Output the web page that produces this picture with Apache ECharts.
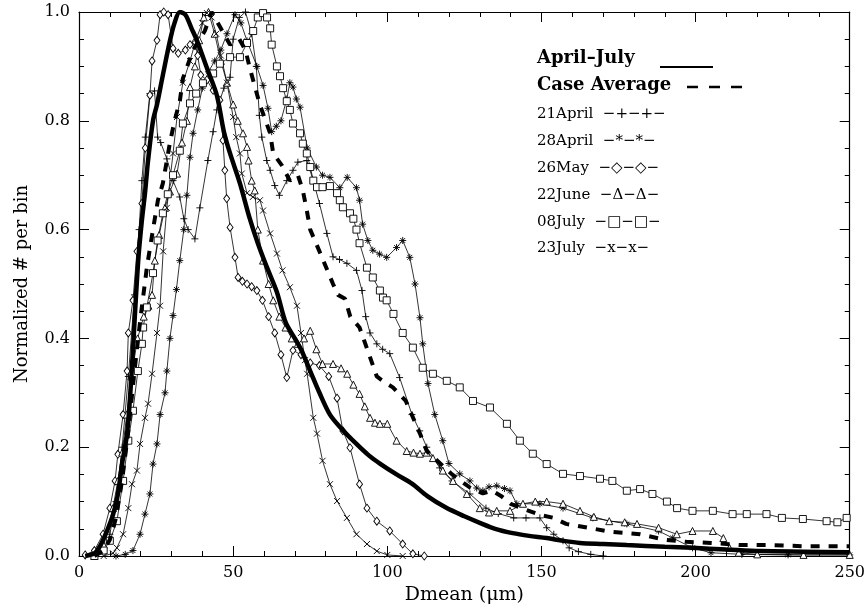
<!DOCTYPE html>
<html lang="en">
<head>
  <meta charset="UTF-8">
  <title>Normalized # per bin vs Dmean</title>
  <style>
    html, body { margin: 0; height: 100%; width: 100%; background: #fff; }
  </style>
</head>
<body>
  <div id="chart" style="width:868px;height:611px"></div>
  <script src="https://cdn.jsdelivr.net/npm/echarts@6/dist/echarts.min.js"></script>
  <script>
    // [Dmean (um), normalized count]
    const aprilJuly = [[2,0],[5,0.005],[7,0.02],[9,0.045],[11,0.075],[12.5,0.11],[14,0.17],[15.6,0.225],[17,0.33],[18.2,0.45],[19.3,0.55],[20.4,0.617],[21.4,0.667],[22.4,0.727],[24,0.8],[25.3,0.83],[27.2,0.884],[29.5,0.947],[31,0.98],[32.7,1.0],[34.5,0.995],[36.5,0.97],[38.3,0.947],[41.5,0.897],[44.7,0.847],[47,0.78],[49,0.74],[52.2,0.685],[55.4,0.62],[58,0.575],[61,0.53],[64.2,0.485],[67,0.43],[70,0.4],[72,0.38],[75,0.34],[78,0.3],[81.4,0.26],[85,0.235],[90,0.206],[94,0.185],[97.6,0.17],[103,0.15],[108,0.133],[113,0.11],[119,0.089],[125,0.073],[130,0.061],[135,0.05],[140.7,0.042],[146,0.037],[151.7,0.033],[157,0.028],[162.5,0.024],[170,0.022],[177.7,0.02],[190,0.017],[199,0.015],[210,0.012],[221,0.009],[235,0.008],[250,0.007]];
    const caseAverage = [[5,0],[8,0.01],[10,0.03],[12,0.07],[14,0.14],[16,0.23],[18,0.34],[20,0.44],[22,0.53],[24,0.6],[25.6,0.654],[27.2,0.685],[28.5,0.727],[29.5,0.76],[31,0.8],[32.7,0.836],[33.7,0.878],[37,0.93],[40.8,0.965],[43,1.0],[46,0.97],[49,0.94],[52,0.95],[54,0.93],[55.4,0.897],[58.7,0.829],[62,0.777],[63,0.74],[65.8,0.718],[68.4,0.69],[71,0.7],[72.6,0.672],[73.9,0.635],[75,0.6],[78,0.56],[82.4,0.5],[84,0.48],[86.3,0.473],[88,0.44],[91,0.42],[96.6,0.33],[99,0.32],[101.8,0.31],[106,0.285],[110.6,0.225],[112.8,0.193],[121,0.15],[127,0.125],[131,0.115],[134,0.12],[137,0.11],[140,0.096],[145,0.085],[150,0.075],[154,0.07],[158,0.059],[165,0.052],[172,0.045],[182,0.04],[190,0.03],[197,0.026],[205,0.024],[215,0.02],[225,0.02],[235,0.018],[245,0.018],[250,0.018]];
    const april21 = [[5,0],[8,0.01],[10,0.04],[12,0.1],[14,0.2],[16,0.33],[18,0.48],[19.5,0.6],[20.4,0.69],[21.5,0.77],[23,0.85],[24.5,0.855],[25.5,0.77],[26.5,0.76],[28.5,0.73],[30.5,0.69],[32.7,0.66],[34,0.62],[35.4,0.6],[37.6,0.583],[39.2,0.64],[41.8,0.727],[43.5,0.78],[44.7,0.82],[47,0.86],[49,0.88],[50,0.95],[52,0.99],[54,1.0],[56,0.96],[57.5,0.9],[58.5,0.81],[59.3,0.77],[60.9,0.727],[62,0.709],[63.5,0.681],[65,0.663],[67.4,0.69],[69.4,0.709],[71,0.724],[73.9,0.727],[76,0.69],[78,0.648],[80.4,0.593],[82.4,0.55],[84.5,0.545],[86.9,0.538],[90,0.525],[91.8,0.488],[93,0.44],[94.4,0.41],[96.6,0.39],[98.5,0.38],[100.8,0.372],[104,0.328],[108,0.26],[110.5,0.23],[112.8,0.2],[117,0.162],[121,0.138],[126.8,0.114],[132,0.088],[136,0.078],[141,0.07],[145,0.07],[149.5,0.07],[151.7,0.052],[154,0.04],[157,0.028],[159,0.015],[162,0.008],[166,0.003],[170,0]];
    const april28 = [[12,0],[15,0.003],[17.5,0.01],[19.8,0.04],[21.4,0.077],[23,0.114],[24,0.169],[25.3,0.206],[26.3,0.26],[27.9,0.3],[28.5,0.34],[29.5,0.4],[30.5,0.442],[31.6,0.49],[32.7,0.543],[34,0.6],[35,0.663],[36,0.733],[37,0.777],[38.5,0.82],[40,0.86],[42,0.89],[44,0.91],[46,0.93],[48,0.96],[50.6,0.995],[52.5,0.98],[54.5,0.947],[57.7,0.9],[59.7,0.865],[61.3,0.823],[62.5,0.78],[64,0.79],[65.5,0.8],[67.4,0.84],[68.4,0.87],[69.4,0.862],[70.5,0.84],[71.7,0.825],[74,0.75],[77,0.715],[79,0.7],[81.4,0.696],[84.6,0.677],[87,0.696],[90,0.677],[91,0.654],[92,0.61],[93.7,0.58],[95.3,0.562],[97.5,0.555],[99.8,0.549],[103,0.567],[105,0.58],[107.3,0.549],[109,0.5],[110.6,0.438],[111.5,0.39],[113.2,0.317],[115.4,0.26],[118,0.212],[120,0.17],[123.5,0.151],[126.8,0.138],[129,0.125],[131,0.12],[133,0.127],[135.5,0.129],[138,0.124],[139.8,0.12],[142,0.096],[149.5,0.096],[157,0.088],[166.7,0.07],[177.7,0.059],[188,0.046],[192.6,0.033],[199,0.015],[205,0.006],[215,0.003],[230,0.002],[250,0.002]];
    const may26 = [[2,0.002],[5,0.01],[7.8,0.04],[10,0.088],[11.7,0.138],[12.6,0.187],[14.3,0.26],[15.6,0.34],[16,0.41],[17.5,0.47],[18.8,0.56],[20.4,0.648],[21.5,0.75],[23,0.847],[23.7,0.91],[25.3,0.948],[26.3,0.995],[27.5,1.0],[28.9,0.995],[30.5,0.933],[32.2,0.924],[34.5,0.93],[36,0.94],[37.6,0.945],[38.5,0.92],[39.5,0.884],[41.5,0.875],[43.5,0.856],[45.7,0.838],[46.7,0.764],[47.3,0.709],[47.9,0.657],[49,0.604],[50.6,0.549],[51.6,0.512],[53,0.505],[54.5,0.5],[56,0.495],[57.7,0.488],[59.5,0.47],[61.5,0.44],[63.5,0.41],[65.5,0.37],[67.4,0.328],[69.4,0.378],[72,0.37],[75,0.355],[78,0.35],[81,0.33],[83.7,0.29],[85.6,0.23],[87.9,0.199],[91,0.132],[93.4,0.088],[96.6,0.064],[100.8,0.046],[105,0.022],[108.3,0.004],[112,0]];
    const june22 = [[5,0],[8,0.02],[11,0.088],[12.6,0.138],[14,0.19],[15.5,0.26],[17,0.33],[19,0.4],[21,0.44],[22.5,0.46],[23.7,0.48],[24.6,0.543],[26,0.59],[27.9,0.64],[29.5,0.67],[31.8,0.703],[33.4,0.76],[35,0.8],[36,0.862],[37.6,0.9],[39,0.948],[40.5,0.99],[42,1.0],[44,0.96],[46,0.91],[48,0.87],[50,0.83],[51.5,0.8],[53.2,0.777],[54.5,0.752],[55,0.727],[56,0.69],[57,0.672],[58,0.6],[59.7,0.543],[61.5,0.5],[63,0.47],[65,0.44],[67,0.42],[69,0.4],[71,0.39],[73,0.4],[75,0.414],[77,0.38],[79,0.353],[82.4,0.353],[85,0.345],[87,0.335],[89,0.315],[91,0.298],[92.7,0.275],[94.4,0.254],[96,0.245],[97.6,0.243],[100,0.243],[103,0.212],[106.3,0.193],[108.5,0.19],[110.6,0.188],[112.8,0.19],[114.8,0.18],[118,0.157],[121.3,0.138],[125.8,0.114],[130,0.088],[133,0.08],[135.5,0.083],[139.8,0.083],[144,0.096],[148,0.1],[151.7,0.1],[157,0.096],[162.5,0.083],[167,0.072],[172,0.064],[177,0.062],[181,0.059],[188,0.052],[193.9,0.04],[199,0.046],[205.6,0.046],[209,0.033],[211,0.015],[214,0.006],[220,0.003],[235,0.002],[250,0.002]];
    const july08 = [[5,0],[8,0.01],[10,0.028],[12.3,0.064],[14.3,0.138],[16,0.212],[17.5,0.267],[19.1,0.34],[20.4,0.39],[20.8,0.42],[22,0.457],[24,0.52],[25.5,0.58],[27.2,0.63],[28.8,0.665],[30.5,0.7],[32.7,0.745],[33.7,0.795],[36,0.832],[38,0.85],[40.2,0.869],[43.5,0.887],[45.7,0.905],[49,0.917],[52.2,0.917],[54.5,0.943],[56.5,0.965],[58,0.99],[59.7,0.998],[61,0.99],[62,0.97],[62.5,0.94],[64.2,0.9],[65.2,0.882],[66.2,0.86],[67.4,0.836],[68.4,0.82],[69.4,0.795],[71.7,0.777],[72.6,0.758],[73.9,0.74],[75,0.715],[76,0.69],[77.2,0.678],[79,0.678],[81.4,0.68],[83.7,0.667],[84.6,0.654],[85.6,0.641],[87.9,0.63],[89,0.62],[90,0.6],[91,0.575],[93.4,0.53],[95.3,0.512],[97.6,0.488],[98.6,0.475],[99.8,0.47],[102,0.445],[105,0.41],[108.3,0.383],[111.5,0.346],[114.8,0.335],[119.3,0.322],[123.5,0.31],[127.8,0.285],[133.3,0.273],[138.8,0.243],[143,0.212],[147.2,0.188],[151.7,0.169],[157,0.151],[162.5,0.147],[169,0.142],[173,0.138],[177.7,0.12],[182,0.123],[186,0.114],[190.7,0.1],[194,0.088],[199,0.083],[205.6,0.083],[212,0.077],[216.6,0.077],[223,0.077],[228,0.07],[234.8,0.068],[242.5,0.064],[246,0.062],[249,0.07]];
    const july23 = [[8,0],[11,0.005],[12.3,0.015],[14.3,0.04],[16,0.088],[17.2,0.132],[18.8,0.157],[19.8,0.206],[21.4,0.254],[22.4,0.28],[23.7,0.335],[25.3,0.41],[26.3,0.46],[27.3,0.56],[28.5,0.64],[30.5,0.74],[31.8,0.807],[33.7,0.87],[36,0.91],[38,0.95],[40,0.98],[41.5,0.998],[43,0.99],[44.5,0.96],[46,0.92],[48,0.87],[50,0.807],[51,0.77],[52.2,0.74],[52.8,0.703],[54.5,0.667],[56.4,0.66],[58.7,0.654],[59.7,0.635],[62,0.593],[64.2,0.556],[66,0.525],[68.4,0.494],[70.7,0.46],[72,0.41],[73.3,0.36],[74,0.335],[76,0.254],[77.2,0.225],[79,0.175],[81.4,0.132],[83.7,0.101],[86.9,0.07],[90,0.04],[93.4,0.022],[96.6,0.009],[100,0.002],[105,0]];

    const xTicks = { min: 0, max: 250, interval: 50 };
    const yTicks = { min: 0, max: 1, interval: 0.2 };

    const legendRows = [
      { text: '21April  \u2212+\u2212+\u2212', y: 116 },
      { text: '28April  \u2212*\u2212*\u2212', y: 143 },
      { text: '26May  \u2212\u25c7\u2212\u25c7\u2212', y: 170 },
      { text: '22June  \u2212\u0394\u2212\u0394\u2212', y: 197 },
      { text: '08July  \u2212\u25a1\u2212\u25a1\u2212', y: 224 },
      { text: '23July  \u2212x\u2212x\u2212', y: 250 }
    ];

    const serif = '"DejaVu Serif", "Liberation Serif", serif';

    const PLUS = 'path://M0,5H10M5,0V10';
    const CROSS = 'path://M0,0L10,10M10,0L0,10';
    const STAR = 'path://M0,5H10M5,0V10M1.5,1.5L8.5,8.5M8.5,1.5L1.5,8.5';

    function marked(name, data, symbol, size) {
      return {
        name: name,
        type: 'line',
        data: data,
        symbol: symbol,
        symbolSize: size,
        showAllSymbol: true,
        lineStyle: { color: '#000', width: 0.8 },
        itemStyle: { color: '#fff', borderColor: '#000', borderWidth: 0.9 },
        z: 2,
        silent: true
      };
    }

    function axisCommon(showLabel, minorSplit) {
      return {
        axisLine: { show: true, onZero: false, lineStyle: { color: '#000', width: 1.2 } },
        axisTick: { show: true, inside: true, length: 10, lineStyle: { color: '#000' } },
        minorTick: { show: true, splitNumber: minorSplit, length: 5, lineStyle: { color: '#000' } },
        splitLine: { show: false },
        axisLabel: {
          show: showLabel, color: '#000', fontFamily: serif, fontSize: 16, margin: 9,
          formatter: function (v) { return minorSplit === 4 ? v.toFixed(1) : String(v); }
        }
      };
    }

    const option = {
      backgroundColor: '#fff',
      animation: false,
      grid: { left: 79, right: 18, top: 12, bottom: 55 },
      xAxis: [
        Object.assign({
          type: 'value', position: 'bottom',
          name: 'Dmean (\u03bcm)', nameLocation: 'middle', nameGap: 30,
          nameTextStyle: { color: '#000', fontFamily: serif, fontSize: 19 }
        }, xTicks, axisCommon(true, 5)),
        Object.assign({ type: 'value', position: 'top' }, xTicks, axisCommon(false, 5))
      ],
      yAxis: [
        Object.assign({
          type: 'value', position: 'left',
          name: 'Normalized # per bin', nameLocation: 'middle', nameGap: 48,
          nameTextStyle: { color: '#000', fontFamily: serif, fontSize: 18 }
        }, yTicks, axisCommon(true, 4)),
        Object.assign({ type: 'value', position: 'right' }, yTicks, axisCommon(false, 4))
      ],
      series: [
        marked('21April', april21, PLUS, 7),
        marked('28April', april28, STAR, 7),
        marked('26May', may26, 'diamond', [6, 8]),
        marked('22June', june22, 'triangle', 7),
        marked('08July', july08, 'rect', 7),
        marked('23July', july23, CROSS, 6),
        {
          name: 'April-July', type: 'line', data: aprilJuly, symbol: 'none', smooth: 0.3,
          lineStyle: { color: '#000', width: 4.5 }, z: 3, silent: true
        },
        {
          name: 'Case Average', type: 'line', data: caseAverage, symbol: 'none',
          lineStyle: { color: '#000', width: 4, type: [9, 9] }, z: 3, silent: true
        }
      ],
      graphic: [
        { type: 'text', left: 537, top: 49, style: { text: 'April\u2013July', font: 'bold 18px ' + serif, fill: '#000' } },
        { type: 'line', shape: { x1: 660, y1: 67, x2: 713, y2: 67 }, style: { stroke: '#000', lineWidth: 2 } },
        { type: 'text', left: 537, top: 76, style: { text: 'Case Average', font: 'bold 18px ' + serif, fill: '#000' } },
        { type: 'line', shape: { x1: 687, y1: 87, x2: 753, y2: 87 }, style: { stroke: '#000', lineWidth: 2.5, lineDash: [11, 11] } }
      ].concat(legendRows.map(function (r) {
        return { type: 'text', left: 537, top: r.y - 9, style: { text: r.text, font: '15px ' + serif, fill: '#000' } };
      }))
    };

    const myChart = echarts.init(document.getElementById('chart'));
    myChart.setOption(option);
  </script>
</body>
</html>
